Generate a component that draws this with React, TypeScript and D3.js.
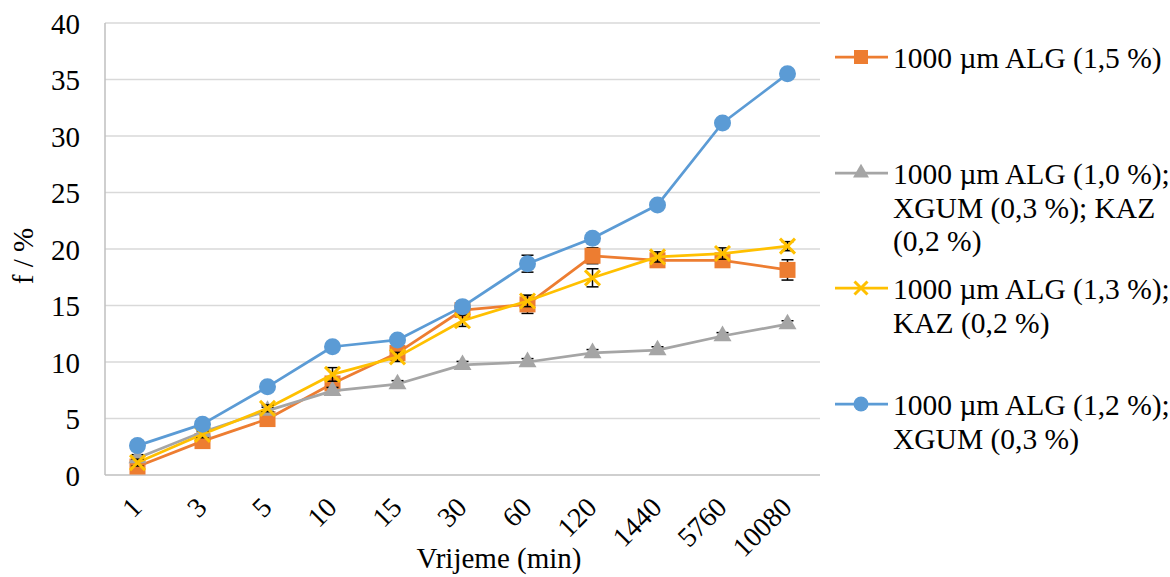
import React from "react";
import * as d3 from "d3";

const categories = ["1", "3", "5", "10", "15", "30", "60", "120", "1440", "5760", "10080"];
const yTicks = [0, 5, 10, 15, 20, 25, 30, 35, 40];

const seriesNames = [
  ["1000 µm ALG (1,5 %)"],
  ["1000 µm ALG (1,0 %);", "XGUM (0,3 %); KAZ", "(0,2 %)"],
  ["1000 µm ALG (1,3 %);", "KAZ (0,2 %)"],
  ["1000 µm ALG (1,2 %);", "XGUM (0,3 %)"],
];

const orangeValues = [0.75, 3.0, 4.95, 8.1, 10.8, 14.6, 15.1, 19.4, 19.0, 19.0, 18.15];
const grayValues = [1.5, 3.8, 5.7, 7.45, 8.05, 9.75, 10.0, 10.8, 11.05, 12.3, 13.35];
const yellowValues = [1.1, 3.6, 5.9, 8.9, 10.45, 13.65, 15.4, 17.45, 19.3, 19.6, 20.25];
const blueValues = [2.6, 4.5, 7.8, 11.35, 11.95, 14.9, 18.7, 20.95, 23.9, 31.15, 35.5];

const orangeErrors = [0.3, 0.3, 0.3, 0.4, 0.4, 0.4, 0.8, 0.7, 0.3, 0.3, 0.9];
const grayErrors = [0.3, 0.3, 0.3, 0.3, 0.3, 0.3, 0.3, 0.3, 0.3, 0.3, 0.3];
const yellowErrors = [0.3, 0.3, 0.3, 0.6, 0.4, 0.5, 0.5, 0.8, 0.45, 0.5, 0.4];
const blueErrors = [0.3, 0.3, 0.3, 0.3, 0.3, 0.3, 0.75, 0.3, 0.3, 0.3, 0.3];

const colors = ["#ED7D31", "#A5A5A5", "#FFC000", "#5B9BD5"];
const markers = ["square", "triangle", "x", "circle"];

const W = 1170;
const H = 577;
const left = 105;
const right = 820;
const top = 23;
const bottom = 475;
const FONT = "'Liberation Serif', 'Times New Roman', serif";

function Marker({ type, color, cx, cy, s }: { type: string; color: string; cx: number; cy: number; s: number }) {
  if (type === "square") {
    return <rect x={cx - s / 2} y={cy - s / 2} width={s} height={s} fill={color} />;
  }
  if (type === "circle") {
    return <circle cx={cx} cy={cy} r={s / 2 + 0.5} fill={color} />;
  }
  if (type === "triangle") {
    const side = s + 2;
    const area = (side * side * Math.sqrt(3)) / 4;
    const p = d3.symbol().type(d3.symbolTriangle).size(area)() as string;
    return <path d={p} transform={`translate(${cx},${cy})`} fill={color} />;
  }
  const h = s / 2 - 0.5;
  return (
    <g stroke={color} strokeWidth={3}>
      <line x1={cx - h} y1={cy - h} x2={cx + h} y2={cy + h} />
      <line x1={cx - h} y1={cy + h} x2={cx + h} y2={cy - h} />
    </g>
  );
}

export default function App() {
  const x = d3.scalePoint<string>().domain(categories).range([left, right]).padding(0.5);
  const y = d3.scaleLinear().domain([0, 40]).range([bottom, top]);
  const allValues = [orangeValues, grayValues, yellowValues, blueValues];
  const allErrors = [orangeErrors, grayErrors, yellowErrors, blueErrors];
  const line = d3
    .line<number>()
    .x((_, i) => x(categories[i]) as number)
    .y((d) => y(d));

  const legendY = [57, 173, 288, 404];
  const lineH = 33.5;

  return (
    <svg width={W} height={H} style={{ position: "absolute", left: 0, top: 0, background: "#fff" }} fontFamily={FONT}>
      {yTicks.map((t) => (
        <line key={"g" + t} x1={left} x2={right} y1={y(t)} y2={y(t)} stroke={t === 0 ? "#BFBFBF" : "#D9D9D9"} strokeWidth={1.5} />
      ))}
      <line x1={left} x2={left} y1={top} y2={bottom} stroke="#BFBFBF" strokeWidth={1.5} />
      {yTicks.map((t) => (
        <text key={"yt" + t} x={80} y={y(t)} dy="0.37em" textAnchor="end" fontSize={29} fill="#000">
          {t}
        </text>
      ))}
      {categories.map((c) => (
        <text
          key={"xt" + c}
          transform={`translate(${(x(c) as number) + 6},${509}) rotate(-45)`}
          textAnchor="end"
          fontSize={28}
          fill="#000"
        >
          {c}
        </text>
      ))}
      <text x={499} y={568} textAnchor="middle" fontSize={29} fill="#000">
        Vrijeme (min)
      </text>
      <text transform={`translate(33,256) rotate(-90)`} textAnchor="middle" fontSize={29} fill="#000">
        f / %
      </text>

      {allValues.map((vals, si) => (
        <g key={"s" + si}>
          <path d={line(vals) as string} fill="none" stroke={colors[si]} strokeWidth={2.75} strokeLinejoin="round" />
          {vals.map((v, i) => {
            const cx = x(categories[i]) as number;
            const e = allErrors[si][i];
            return (
              <g key={"e" + i} stroke="#000" strokeWidth={1.5}>
                <line x1={cx} x2={cx} y1={y(v - e)} y2={y(v + e)} />
                <line x1={cx - 6} x2={cx + 6} y1={y(v - e)} y2={y(v - e)} />
                <line x1={cx - 6} x2={cx + 6} y1={y(v + e)} y2={y(v + e)} />
              </g>
            );
          })}
          {vals.map((v, i) => (
            <Marker key={"m" + i} type={markers[si]} color={colors[si]} cx={x(categories[i]) as number} cy={y(v)} s={16} />
          ))}
        </g>
      ))}

      {seriesNames.map((lines, si) => (
        <g key={"l" + si}>
          <line x1={835} x2={888} y1={legendY[si]} y2={legendY[si]} stroke={colors[si]} strokeWidth={2.75} />
          <Marker type={markers[si]} color={colors[si]} cx={861} cy={legendY[si]} s={14} />
          {lines.map((t, li) => (
            <text key={li} x={893} y={legendY[si] + 11 + li * lineH} fontSize={29.5} fill="#000">
              {t}
            </text>
          ))}
        </g>
      ))}
    </svg>
  );
}
